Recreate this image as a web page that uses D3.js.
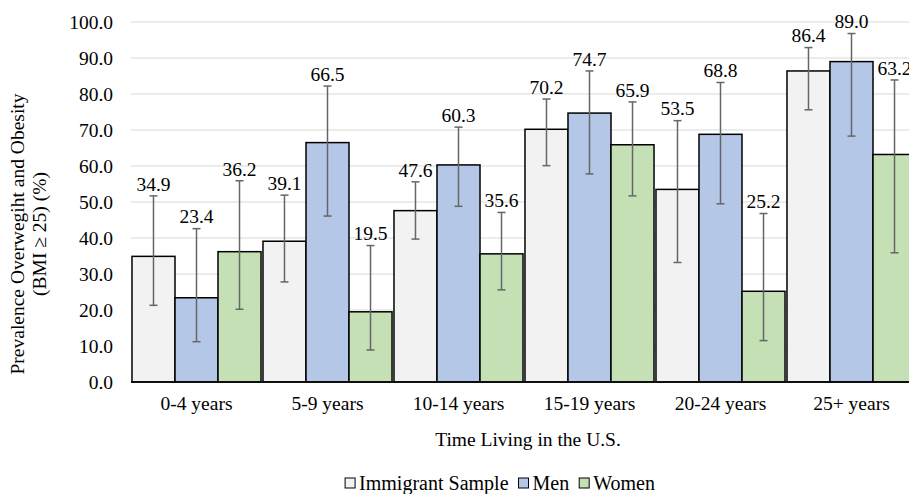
<!DOCTYPE html>
<html>
<head>
<meta charset="utf-8">
<script src="https://cdn.jsdelivr.net/npm/d3@7"></script>
<style>
  body { margin: 0; background: #fff; }
</style>
</head>
<body>
<svg id="chart" width="909" height="494"></svg>
<script>
const categories = ["0-4 years", "5-9 years", "10-14 years", "15-19 years", "20-24 years", "25+ years"];
const seriesNames = ["Immigrant Sample", "Men", "Women"];
const seriesColors = ["#F2F2F2", "#B4C7E7", "#C5E0B4"];

const immigrant = [34.9, 39.1, 47.6, 70.2, 53.5, 86.4];
const men       = [23.4, 66.5, 60.3, 74.7, 68.8, 89.0];
const women     = [36.2, 19.5, 35.6, 65.9, 25.2, 63.2];

// confidence bounds
const immigrantLow  = [21.3, 27.8, 39.7, 60.1, 33.2, 75.6];
const immigrantHigh = [51.7, 51.9, 55.6, 78.6, 72.6, 92.9];
const menLow        = [11.2, 46.1, 48.8, 57.8, 49.5, 68.3];
const menHigh       = [42.6, 82.2, 70.8, 86.4, 83.2, 96.8];
const womenLow      = [20.2, 8.9, 25.6, 51.7, 11.5, 35.9];
const womenHigh     = [55.9, 37.9, 47.1, 77.8, 46.8, 83.9];

const yTicks = d3.range(0, 101, 10);

const FONT = "'Liberation Serif', 'Times New Roman', serif";
const FS = "19.5px";

const svg = d3.select("#chart")
    .style("font-family", FONT);

const x0 = d3.scaleBand()
    .domain(categories)
    .range([131, 917])
    .paddingInner(0.015)
    .paddingOuter(0.0075);

const x1 = d3.scaleBand()
    .domain(seriesNames)
    .range([0, x0.bandwidth()]);

const y = d3.scaleLinear()
    .domain([0, 100])
    .range([382, 22]);

// gridlines
svg.append("g")
  .selectAll("line")
  .data(yTicks.slice(1))
  .join("line")
    .attr("x1", 131)
    .attr("x2", 909)
    .attr("y1", d => y(d))
    .attr("y2", d => y(d))
    .attr("stroke", "#D9D9D9")
    .attr("stroke-width", 1.2);

// y tick labels
svg.append("g")
    .attr("transform", "translate(131,0)")
    .call(d3.axisLeft(y).tickValues(yTicks).tickFormat(d3.format(".1f")).tickSize(0).tickPadding(18))
    .call(g => g.select(".domain").remove())
    .call(g => g.selectAll("text")
      .style("font-family", FONT)
      .style("font-size", FS)
      .attr("fill", "#000"));

const rows = categories.map((c, i) => ({
  category: c,
  values: [
    { name: seriesNames[0], value: immigrant[i], lo: immigrantLow[i], hi: immigrantHigh[i] },
    { name: seriesNames[1], value: men[i], lo: menLow[i], hi: menHigh[i] },
    { name: seriesNames[2], value: women[i], lo: womenLow[i], hi: womenHigh[i] }
  ]
}));

const color = d3.scaleOrdinal().domain(seriesNames).range(seriesColors);

const groups = svg.append("g")
  .selectAll("g")
  .data(rows)
  .join("g")
    .attr("transform", d => `translate(${x0(d.category)},0)`);

groups.selectAll("rect")
  .data(d => d.values)
  .join("rect")
    .attr("x", d => x1(d.name))
    .attr("y", d => y(d.value))
    .attr("width", x1.bandwidth())
    .attr("height", d => y(0) - y(d.value))
    .attr("fill", d => color(d.name))
    .attr("stroke", "#000")
    .attr("stroke-width", 1.5);

// error bars
const err = groups.selectAll("g.err")
  .data(d => d.values)
  .join("g")
    .attr("class", "err")
    .attr("stroke", "#666")
    .attr("stroke-width", 1.5);

const cx = d => x1(d.name) + x1.bandwidth() / 2;

err.append("line")
    .attr("x1", cx).attr("x2", cx)
    .attr("y1", d => y(d.lo))
    .attr("y2", d => y(d.hi));
err.append("line")
    .attr("x1", d => cx(d) - 4).attr("x2", d => cx(d) + 4)
    .attr("y1", d => y(d.hi))
    .attr("y2", d => y(d.hi));
err.append("line")
    .attr("x1", d => cx(d) - 4).attr("x2", d => cx(d) + 4)
    .attr("y1", d => y(d.lo))
    .attr("y2", d => y(d.lo));

// value labels
groups.selectAll("text.val")
  .data(d => d.values)
  .join("text")
    .attr("class", "val")
    .attr("x", cx)
    .attr("y", d => y(d.hi) - 12)
    .attr("dy", "0.35em")
    .attr("text-anchor", "middle")
    .style("font-size", FS)
    .text(d => d3.format(".1f")(d.value));

// baseline
svg.append("line")
    .attr("x1", 131)
    .attr("x2", 909)
    .attr("y1", y(0))
    .attr("y2", y(0))
    .attr("stroke", "#000")
    .attr("stroke-width", 1.5);

// category labels
svg.append("g")
    .attr("transform", `translate(0,${y(0)})`)
    .call(d3.axisBottom(x0).tickSize(0).tickPadding(14))
    .call(g => g.select(".domain").remove())
    .call(g => g.selectAll("text")
      .style("font-family", FONT)
      .style("font-size", FS)
      .attr("fill", "#000"));

// axis titles
svg.append("text")
    .attr("x", 528)
    .attr("y", 446)
    .attr("text-anchor", "middle")
    .style("font-size", FS)
    .text("Time Living in the U.S.");

const yTitle = svg.append("text")
    .attr("transform", "translate(24,234) rotate(-90)")
    .attr("text-anchor", "middle")
    .style("font-size", FS);
yTitle.append("tspan").attr("x", 0).attr("dy", 0).text("Prevalence Overwegiht and Obesity");
yTitle.append("tspan").attr("x", 0).attr("dy", 22).text("(BMI \u2265 25) (%)");

// legend
const legend = svg.append("g");
let lx = 0;
seriesNames.forEach((name, i) => {
  const item = legend.append("g").attr("transform", `translate(${lx},0)`);
  item.append("rect")
      .attr("x", 0).attr("y", -12)
      .attr("width", 10).attr("height", 10)
      .attr("fill", seriesColors[i])
      .attr("stroke", "#000")
      .attr("stroke-width", 1);
  const t = item.append("text")
      .attr("x", 14).attr("y", 0)
      .style("font-size", "20px")
      .text(name);
  lx += 14 + t.node().getComputedTextLength() + 10;
});
legend.attr("transform", `translate(${500 - (lx - 10) / 2},490)`);
</script>
</body>
</html>
